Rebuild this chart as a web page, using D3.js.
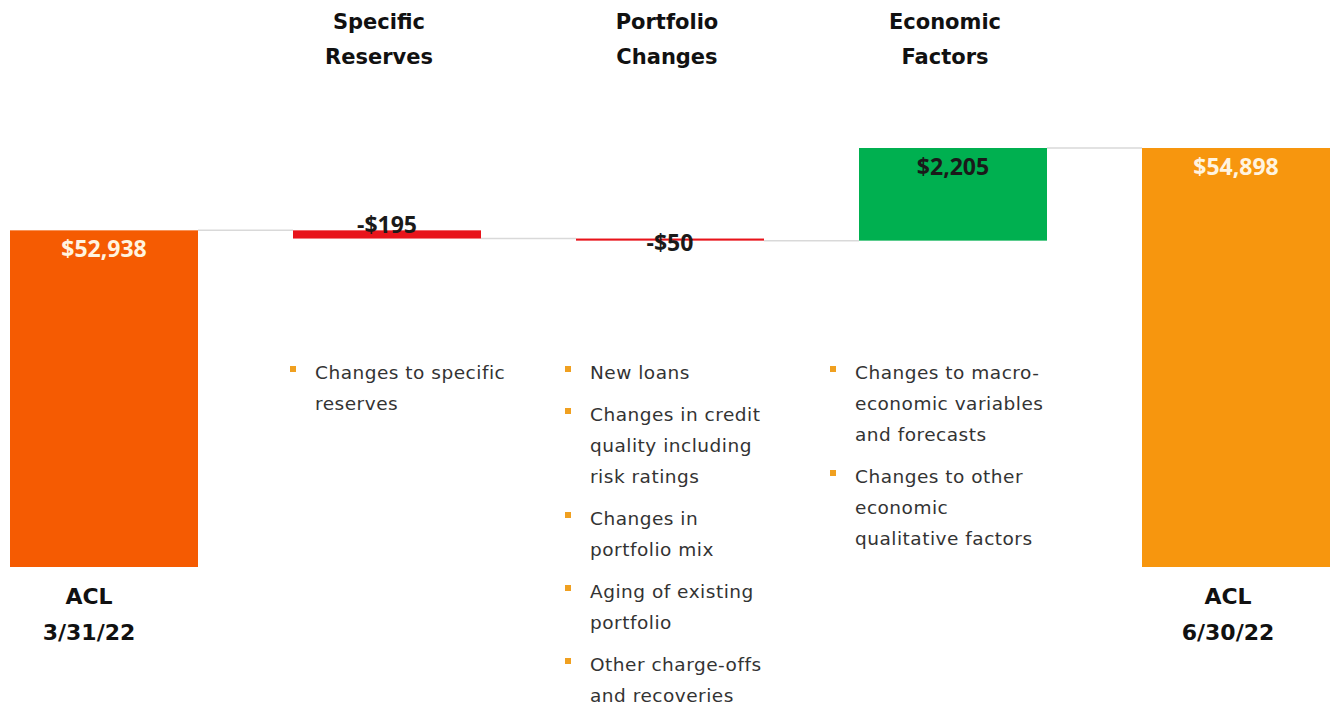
<!DOCTYPE html>
<html>
<head>
<meta charset="utf-8">
<script src="https://cdn.jsdelivr.net/npm/d3@7"></script>
<style>
  html, body { margin: 0; padding: 0; background: #fff; }
  svg { display: block; }
</style>
</head>
<body>
<svg id="chart" width="1334" height="708"></svg>
<script>
// ---- data ----
const categories = ["ACL 3/31/22", "Specific Reserves", "Portfolio Changes", "Economic Factors", "ACL 6/30/22"];
const values = [52938, -195, -50, 2205, 54898];
const kinds = ["total", "delta", "delta", "delta", "total"];
const valueLabels = ["$52,938", "-$195", "-$50", "$2,205", "$54,898"];
const headerLabels = [null, ["Specific", "Reserves"], ["Portfolio", "Changes"], ["Economic", "Factors"], null];
const footerLabels = [["ACL", "3/31/22"], null, null, null, ["ACL", "6/30/22"]];
const bullets = [
  null,
  [["Changes to specific", "reserves"]],
  [["New loans"], ["Changes in credit", "quality including", "risk ratings"], ["Changes in", "portfolio mix"], ["Aging of existing", "portfolio"], ["Other charge-offs", "and recoveries"]],
  [["Changes to macro-", "economic variables", "and forecasts"], ["Changes to other", "economic", "qualitative factors"]],
  null
];
const axisFloor = 44925; // truncated value axis start

// ---- waterfall ----
let running = 0;
const bars = categories.map((c, i) => {
  let start, end;
  if (kinds[i] === "total") { start = axisFloor; end = values[i]; running = values[i]; }
  else { start = running; end = running + values[i]; running = end; }
  return { cat: c, i, start, end, value: values[i], kind: kinds[i] };
});

const colors = ["#F55B02", "#E8141B", "#E8141B", "#00B050", "#F7960E"];

const svg = d3.select("#chart");
const x = d3.scaleBand().domain(categories).range([10, 1330]).paddingInner(0.3357).paddingOuter(0);
const y = d3.scaleLinear().domain([axisFloor, 54898]).range([567, 148]);

// connectors
const conn = svg.append("g");
bars.slice(0, -1).forEach((b, i) => {
  const next = bars[i + 1];
  conn.append("line")
    .attr("x1", x(b.cat) + x.bandwidth()).attr("x2", x(next.cat))
    .attr("y1", y(b.end)).attr("y2", y(b.end))
    .attr("stroke", "#d9d9d9").attr("stroke-width", 1.5);
});

// bars
svg.append("g").selectAll("rect").data(bars).join("rect")
  .attr("x", d => x(d.cat))
  .attr("width", x.bandwidth())
  .attr("y", d => y(Math.max(d.start, d.end)))
  .attr("height", d => Math.max(2, Math.abs(y(d.start) - y(d.end))))
  .attr("fill", (d, i) => colors[i]);

// value labels
const valFont = "'Open Sans', 'Liberation Sans', sans-serif";
svg.append("g").selectAll("text").data(bars).join("text")
  .attr("x", d => x(d.cat) + x.bandwidth() / 2)
  .attr("y", d => {
    if (d.kind === "total") return y(d.end) + 27;
    if (d.value > 0) return y(d.end) + 27;
    return d.i === 1 ? y(d.start) + 3 : y(d.end) + 10;
  })
  .attr("text-anchor", "middle")
  .attr("font-family", valFont)
  .attr("font-weight", 700)
  .attr("font-size", 23)
  .attr("fill", d => d.kind === "total" ? "#FFF4E0" : "#1a1a1a")
  .text((d, i) => valueLabels[i]);

const gothic = "'DejaVu Sans', 'Lato', sans-serif";

// headers
bars.forEach((b, i) => {
  if (!headerLabels[i]) return;
  const t = svg.append("text")
    .attr("y", 29)
    .attr("text-anchor", "middle")
    .attr("font-family", gothic)
    .attr("font-weight", 700)
    .attr("font-size", 21)
    .attr("fill", "#111");
  headerLabels[i].forEach((ln, k) => t.append("tspan").attr("x", x(b.cat) + x.bandwidth() / 2 - 8 + (i === 2 ? 5 : 0)).attr("dy", k === 0 ? 0 : 35).text(ln));
});

// footers
bars.forEach((b, i) => {
  if (!footerLabels[i]) return;
  const cx = x(b.cat) + x.bandwidth() / 2 + (i === 0 ? -15 : -8);
  const t = svg.append("text")
    .attr("y", 604)
    .attr("text-anchor", "middle")
    .attr("font-family", gothic)
    .attr("font-weight", 700)
    .attr("font-size", 22)
    .attr("fill", "#111");
  footerLabels[i].forEach((ln, k) => t.append("tspan").attr("x", cx).attr("dy", k === 0 ? 0 : 36).text(ln));
});

// bullets
const lineH = 31, groupGap = 11;
const bulletShift = { 1: -3, 2: -11, 3: -29 };
bars.forEach((b, i) => {
  if (!bullets[i]) return;
  const bx = x(b.cat) + bulletShift[i];
  const tx = bx + 25;
  let yy = 379;
  const g = svg.append("g");
  bullets[i].forEach(item => {
    g.append("rect").attr("x", bx).attr("y", yy - 13).attr("width", 6).attr("height", 6).attr("fill", "#F0A020");
    item.forEach((ln, k) => {
      g.append("text")
        .attr("x", tx).attr("y", yy + k * lineH)
        .attr("font-family", gothic)
        .attr("font-size", 18.5)
        .attr("letter-spacing", 0.5)
        .attr("fill", "#333")
        .text(ln);
    });
    yy += item.length * lineH + groupGap;
  });
});
</script>
</body>
</html>
